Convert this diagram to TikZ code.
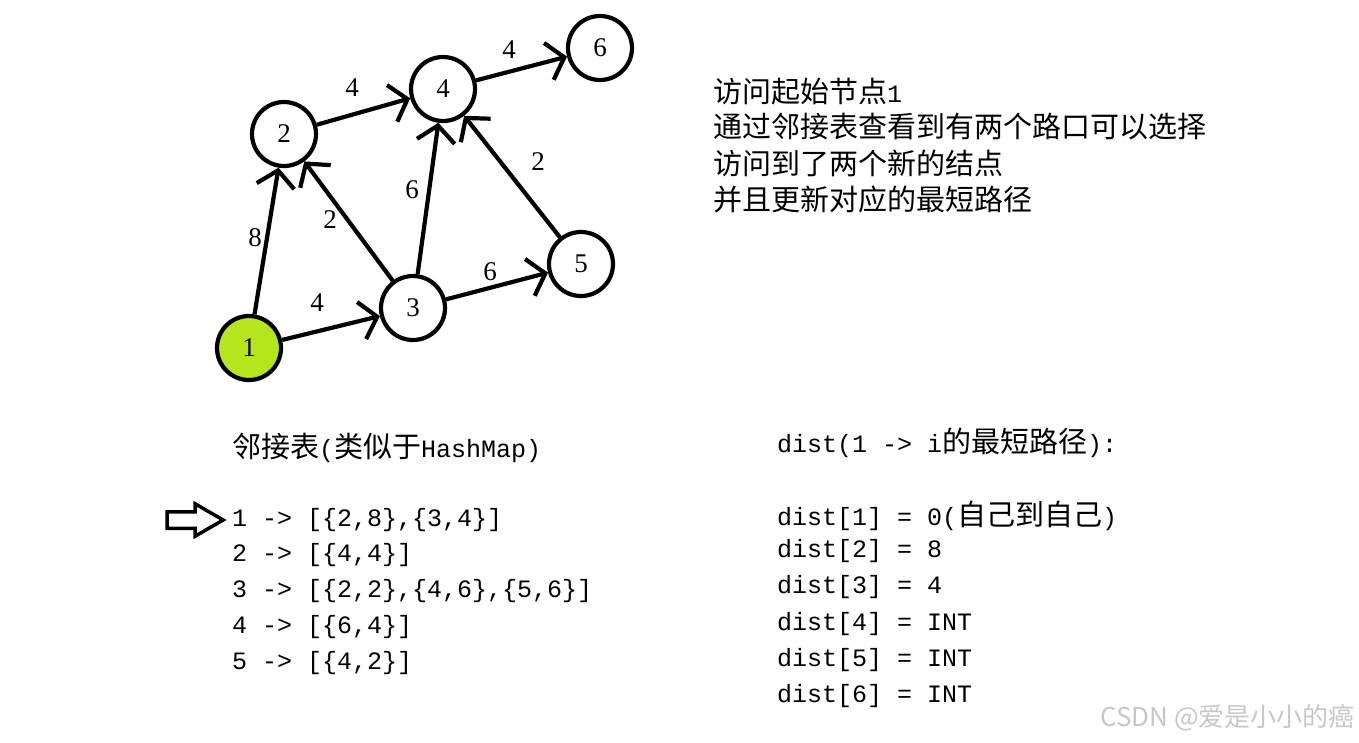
\documentclass[tikz,border=0pt]{standalone}
\usepackage{fontspec}
\newfontfamily\cjk[Scale=1.16]{Noto Sans CJK SC}
\newfontfamily\mono{Liberation Mono}
\newfontfamily\digits{Liberation Serif}
\newfontfamily\wmfont{Noto Sans CJK SC}
\definecolor{visited}{RGB}{181, 230, 29}
\usetikzlibrary{arrows.meta, shapes.arrows}

\begin{document}
\begin{tikzpicture}[x=1pt, y=-1pt,
    vertex/.style={circle, draw, line width=4.2pt, minimum size=64pt, inner sep=0pt, font=\fontsize{27}{30}\selectfont\digits},
    start/.style={vertex, fill=visited},
    weight/.style={inner sep=0pt, font=\fontsize{27}{30}\selectfont\digits},
    arr/.style={-{Straight Barb[length=16pt, width=38pt]}, line width=4.2pt},
    textline/.style={anchor=west, inner sep=0pt, font=\fontsize{25}{30}\selectfont\mono},
    wmark/.style={anchor=east, inner sep=0pt, text=black!22, font=\fontsize{26}{28}\selectfont\wmfont}
]
    \useasboundingbox (0,0) rectangle (1359,742);

    % graph
    \node[start] (n1) at (249,348) {1};
    \node[vertex] (n2) at (284,134) {2};
    \node[vertex] (n3) at (413,308) {3};
    \node[vertex] (n4) at (443,89) {4};
    \node[vertex] (n5) at (581,264) {5};
    \node[vertex] (n6) at (600,48) {6};

    \draw[arr] (n1) -- (n2);
    \draw[arr] (n1) -- (n3);
    \draw[arr] (n2) -- (n4);
    \draw[arr] (n3) -- (n2);
    \draw[arr] (n3) -- (n4);
    \draw[arr] (n3) -- (n5);
    \draw[arr] (n4) -- (n6);
    \draw[arr] (n5) -- (n4);

    \node[weight] (w12) at (255,238) {8};
    \node[weight] (w13) at (317,303) {4};
    \node[weight] (w24) at (352,88) {4};
    \node[weight] (w32) at (330,220) {2};
    \node[weight] (w34) at (412,190) {6};
    \node[weight] (w35) at (490,272) {6};
    \node[weight] (w46) at (509,50) {4};
    \node[weight] (w54) at (538,162) {2};

    % step notes
    \node[textline] (note1) at (713,92) {{\cjk 访问起始节点}1};
    \node[textline] (note2) at (713,127) {\cjk 通过邻接表查看到有两个路口可以选择};
    \node[textline] (note3) at (713,163) {\cjk 访问到了两个新的结点};
    \node[textline] (note4) at (713,199) {\cjk 并且更新对应的最短路径};

    % adjacency list
    \node[textline] (adjtitle) at (232,448) {{\cjk 邻接表}({\cjk 类似于}HashMap)};
    \node[textline] (adj1) at (232,520) {1 -> [\{2,8\},\{3,4\}]};
    \node[textline] (adj2) at (232,555) {2 -> [\{4,4\}]};
    \node[textline] (adj3) at (232,591) {3 -> [\{2,2\},\{4,6\},\{5,6\}]};
    \node[textline] (adj4) at (232,627) {4 -> [\{6,4\}]};
    \node[textline] (adj5) at (232,663) {5 -> [\{4,2\}]};
    \node[single arrow, draw, line width=3.5pt, minimum height=56pt, inner sep=6.5pt,
          single arrow head extend=8pt, single arrow tip angle=60] (ptr) at (188,520) {};

    % distances
    \node[textline] (disttitle) at (777,443) {dist(1 -> i{\cjk 的最短路径}):};
    \node[textline] (d1) at (777,516) {dist[1] = 0({\cjk 自己到自己})};
    \node[textline] (d2) at (777,551) {dist[2] = 8};
    \node[textline] (d3) at (777,587) {dist[3] = 4};
    \node[textline] (d4) at (777,624) {dist[4] = INT};
    \node[textline] (d5) at (777,660) {dist[5] = INT};
    \node[textline] (d6) at (777,696) {dist[6] = INT};

    \node[wmark] (wm) at (1355,718) {CSDN @爱是小小的癌};
\end{tikzpicture}
\end{document}
